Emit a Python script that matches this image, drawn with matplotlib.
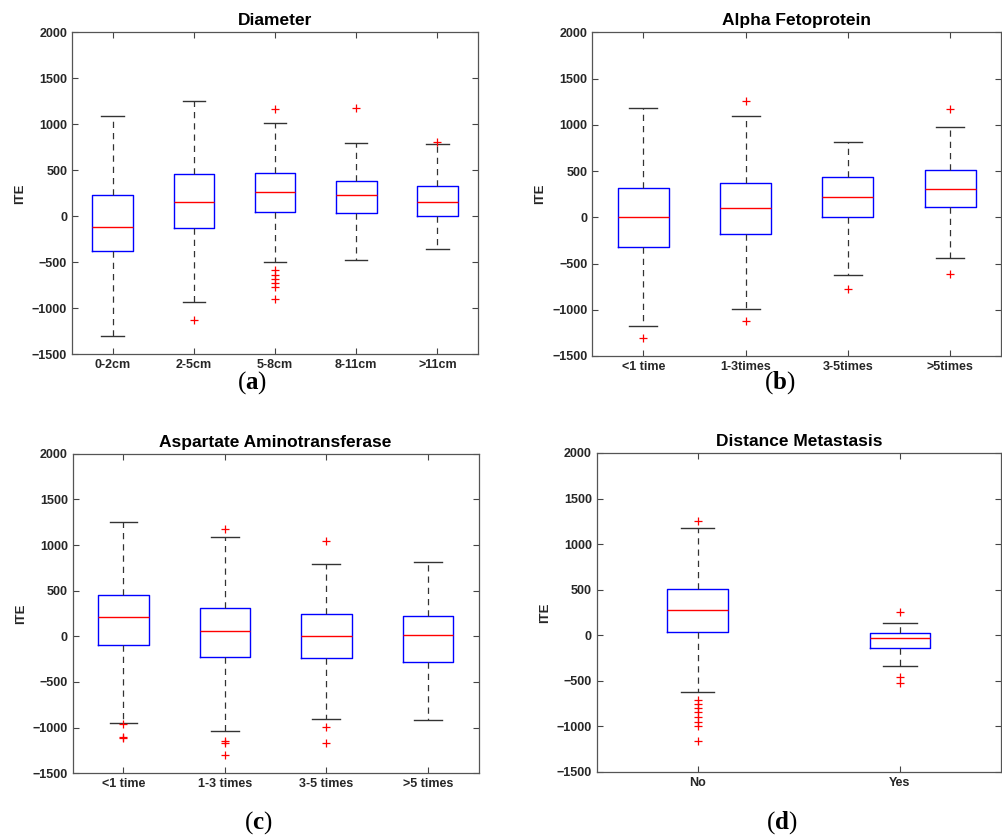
import matplotlib.pyplot as plt

plt.rcParams['font.family'] = ['Liberation Sans', 'DejaVu Sans']
plt.rcParams['mathtext.fontset'] = 'custom'
plt.rcParams['mathtext.bf'] = 'Liberation Serif:bold'
plt.rcParams['mathtext.rm'] = 'Liberation Serif'

# (a) Diameter
diam_labels = ['0-2cm', '2-5cm', '5-8cm', '8-11cm', '>11cm']
diam_whishi = [1094, 1254, 1018, 793, 790]
diam_q3 = [236, 460, 475, 388, 326]
diam_med = [-116, 152, 268, 232, 152]
diam_q1 = [-380, -130, 51, 36, 7]
diam_whislo = [-1297, -928, -492, -478, -351]
diam_fliers = [[], [-1123], [1167, -579, -634, -677, -724, -767, -895], [1178], [804]]

# (b) Alpha Fetoprotein
afp_labels = ['<1 time', '1-3times', '3-5times', '>5times']
afp_whishi = [1186, 1092, 818, 981]
afp_q3 = [321, 368, 433, 516]
afp_med = [0, 105, 220, 306]
afp_q1 = [-321, -180, 0, 112]
afp_whislo = [-1175, -991, -620, -443]
afp_fliers = [[-1301], [1254, -1118], [-779], [1168, -613]]

# (c) Aspartate Aminotransferase
ast_labels = ['<1 time', '1-3 times', '3-5 times', '>5 times']
ast_whishi = [1248, 1091, 792, 810]
ast_q3 = [456, 310, 241, 226]
ast_med = [212, 62, 0, 15]
ast_q1 = [-99, -226, -234, -281]
ast_whislo = [-945, -1033, -901, -916]
ast_fliers = [[-960, -1105, -1115], [1179, -1150, -1165, -1296], [1040, -989, -1172], []]

# (d) Distance Metastasis
dm_labels = ['No', 'Yes']
dm_whishi = [1179, 135]
dm_q3 = [505, 18]
dm_med = [271, -37]
dm_q1 = [33, -139]
dm_whislo = [-629, -337]
dm_fliers = [[1249, -714, -758, -805, -849, -897, -952, -999, -1164], [253, -465, -531]]

panels = [
    ('Diameter', diam_labels, diam_whislo, diam_q1, diam_med, diam_q3, diam_whishi, diam_fliers, 0.5),
    ('Alpha Fetoprotein', afp_labels, afp_whislo, afp_q1, afp_med, afp_q3, afp_whishi, afp_fliers, 0.5),
    ('Aspartate Aminotransferase', ast_labels, ast_whislo, ast_q1, ast_med, ast_q3, ast_whishi, ast_fliers, 0.5),
    ('Distance Metastasis', dm_labels, dm_whislo, dm_q1, dm_med, dm_q3, dm_whishi, dm_fliers, 0.3),
]

rects = [
    [0.0718, 0.5777, 0.4048, 0.3838],
    [0.5905, 0.5757, 0.4078, 0.3858],
    [0.0725, 0.0783, 0.4047, 0.3809],
    [0.5949, 0.0802, 0.4031, 0.3799],
]
sub_labels = ['a', 'b', 'c', 'd']
sub_pos = [(0.2513, 0.544), (0.7777, 0.544), (0.2572, 0.019), (0.7797, 0.019)]

fig = plt.figure(figsize=(10.03, 8.39), dpi=100)
tick_col = '#262626'

for (title, labels, wlo, q1, med, q3, whi, fl, w), rect in zip(panels, rects):
    ax = fig.add_axes(rect)
    stats = []
    for i in range(len(labels)):
        stats.append(dict(whislo=wlo[i], q1=q1[i], med=med[i], q3=q3[i],
                          whishi=whi[i], fliers=fl[i], label=labels[i]))
    n = len(labels)
    ax.bxp(stats, widths=w, capwidths=w * 0.55, showfliers=True,
           boxprops=dict(color='blue', linewidth=1.0),
           medianprops=dict(color='red', linewidth=1.0),
           whiskerprops=dict(color='#333333', linestyle=(0, (5, 4)), linewidth=0.9),
           capprops=dict(color='#333333', linewidth=1.0),
           flierprops=dict(marker='+', markeredgecolor='red', markersize=6,
                           markeredgewidth=0.9, linestyle='none'))
    ax.set_xlim(0.5, n + 0.5)
    ax.set_ylim(-1500, 2000)
    ax.set_yticks(range(-1500, 2001, 500))
    ax.set_title(title, fontsize=12.5, fontweight='bold', pad=5)
    ax.set_ylabel('ITE', fontsize=9.5, fontweight='bold', color=tick_col)
    ax.tick_params(direction='in', top=True, right=True, length=4,
                   color='#444444', labelcolor=tick_col, labelsize=9)
    for lab in ax.get_xticklabels() + ax.get_yticklabels():
        lab.set_fontweight('bold')
    for sp in ax.spines.values():
        sp.set_color('#555555')
        sp.set_linewidth(0.9)

for s, (x, y) in zip(sub_labels, sub_pos):
    fig.text(x, y, '($\\mathbf{%s}$)' % s, ha='center', va='center',
             fontsize=18, family='Liberation Serif')

fig.savefig('out.png', dpi=100)
